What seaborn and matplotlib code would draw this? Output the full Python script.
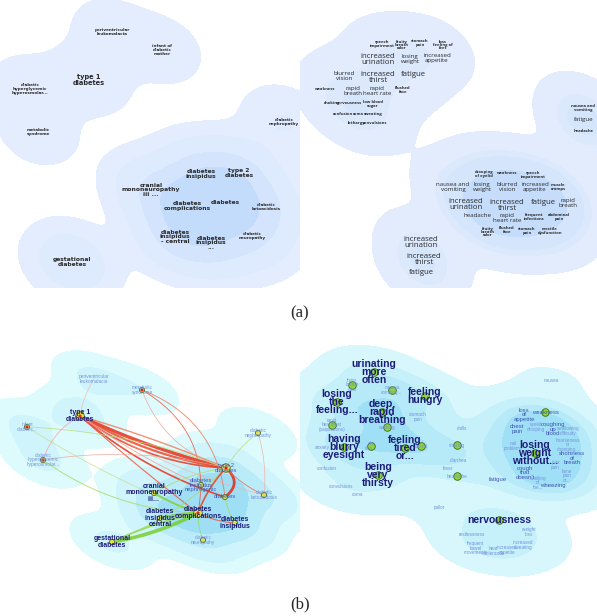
import numpy as np
import pandas as pd
import matplotlib.pyplot as plt
from matplotlib.colors import LinearSegmentedColormap
import seaborn as sns

sns.set_style("white")
plt.rcParams["font.family"] = ["DejaVu Sans"]

# ---------------- (a) left: disease map ----------------
a1_labels = ["periventricular\nleukomalacia", "infant of\ndiabetic\nmother", "type 1\ndiabetes",
             "diabetic\nhyperglycemic\nhyperosmolar...", "metabolic\nsyndrome", "diabetic\nnephropathy",
             "diabetes\ninsipidus", "type 2\ndiabetes", "cranial\nmononeuropathy\niii ...",
             "diabetes\ncomplications", "diabetes", "diabetic\nketoacidosis", "diabetes\ninsipidus\n- central",
             "diabetes\ninsipidus\n...", "diabetic\nneuropathy", "gestational\ndiabetes"]
a1_x = [112, 162, 89, 30, 38, 284, 201, 239, 151, 187, 225, 266, 175, 211, 252, 72]
a1_y = [32, 50, 80, 89, 132, 122, 174, 173, 190, 206, 203, 207, 237, 243, 236, 262]
a1_rank = [1, 1, 3, 1, 1, 1, 2, 2, 2, 2, 2, 1, 2, 2, 1, 2]
a1_weight = [1, 1, 1.2, 1, 1, 1.4, 4, 4, 3, 6, 6, 3, 4, 4, 3, 3]

# ---------------- (a) right: symptom map ----------------
a2_labels = ["speech\nimpairment", "fruity\nbreath\nodor", "stomach\npain", "loss\nfeeling of\nfeet",
             "increased\nurination", "losing\nweight", "increased\nappetite", "blurred\nvision",
             "increased\nthirst", "fatigue", "weakness", "rapid\nbreath", "rapid\nheart rate",
             "flushed\nface", "choking", "nervousness", "low blood\nsugar", "confusion", "coma",
             "sweating", "lethargy", "convulsions",
             "nausea and\nvomiting", "fatigue", "headache",
             "drooping\nof eyelid", "weakness", "speech\nimpairment", "nausea and\nvomiting",
             "losing\nweight", "blurred\nvision", "increased\nappetite", "muscle\ncramps",
             "increased\nurination", "increased\nthirst", "fatigue", "rapid\nbreath", "headache",
             "rapid\nheart rate", "frequent\ninfections", "abdominal\npain", "fruity\nbreath\nodor",
             "flushed\nface", "stomach\npain", "erectile\ndysfunction",
             "increased\nurination", "increased\nthirst", "fatigue"]
a2_x = [382, 402, 420, 443, 378, 410, 437, 344, 378, 413, 325, 353, 377, 403, 332, 349, 373, 343, 358,
        373, 356, 375,
        583, 584, 584,
        484, 507, 533, 453, 482, 507, 535, 558, 466, 507, 543, 568, 478, 507, 534, 559, 488, 507, 527, 550,
        421, 424, 421]
a2_y = [44, 45, 43, 45, 59, 59, 58, 76, 77, 74, 89, 91, 91, 90, 103, 103, 104, 114, 114, 114, 123, 123,
        108, 120, 131,
        174, 173, 175, 187, 187, 187, 187, 187, 205, 206, 203, 203, 216, 218, 217, 217, 232, 230, 231, 231,
        243, 260, 273]
a2_rank = [1, 1, 1, 1, 3, 2, 2, 2, 3, 3, 1, 2, 2, 1, 1, 1, 1, 1, 1, 1, 1, 1,
           1, 2, 1,
           1, 1, 1, 2, 2, 2, 2, 1, 3, 3, 3, 2, 2, 2, 1, 1, 1, 1, 1, 1,
           3, 3, 3]
a2_weight = [1, 1, 1, 1, 1.5, 1.5, 1.5, 1.5, 1.5, 1.5, 1, 1, 1, 1, 1, 1, 1, 1, 1, 1, 1, 1,
             3.5, 3.5, 3.5,
             3, 3, 3, 3, 4, 4, 4, 3.5, 4, 6, 4, 3.5, 4, 4, 3, 3.5, 3, 3, 3, 3,
             3.5, 3.5, 3.5]

# ---------------- (b) left: disease network ----------------
b1_labels = ["periventricular\nleukomalacia", "metabolic\nsyndrome", "type 1\ndiabetes", "infant\ndiabetic...",
             "diabetic\nhyperglycemic\nhyperosmolar...", "diabetic\nnephropathy", "type 2\ndiabetes",
             "diabetes\ninsipidus\nnephrogenic", "cranial\nmononeuropathy\niii...", "diabetes",
             "diabetic\nketoacidosis", "diabetes\ncomplications", "diabetes\ninsipidus\ncentral",
             "diabetes\ninsipidus", "diabetic\nneuropathy", "gestational\ndiabetes"]
b1_x = [94, 142, 80, 27, 43, 258, 226, 201, 154, 225, 264, 198, 160, 235, 203, 112]
b1_y = [379, 390, 416, 427, 460, 433, 468, 485, 493, 497, 495, 513, 518, 523, 540, 542]
b1_rank = [1, 1, 3, 1, 1, 1, 2, 2, 3, 2, 1, 3, 3, 3, 1, 3]
b1_weight = [1.5, 1, 2, 1.5, 1.5, 1.2, 4, 4, 3, 5, 3, 6, 4, 4, 3, 1.5]
b1_hub = [0, 1, 2, 1, 1, 1, 2, 1, 1, 1, 1, 2, 1, 1, 1, 1]
b1_red = [0, 1, 1, 1, 1, 0, 1, 0, 0, 0, 0, 1, 0, 0, 0, 0]

# edges: source, target, colour, width, bend
b1_edges = [(2, 6, "#e8301c", 2.4, 0.05), (2, 6, "#ec4a2a", 1.6, 0.10), (2, 6, "#f08060", 1.0, -0.03),
            (2, 6, "#e53b20", 1.2, 0.15),
            (2, 9, "#e8301c", 1.2, 0.10), (2, 11, "#f2553a", 0.8, 0.02), (2, 7, "#f4a090", 0.6, 0.05),
            (2, 10, "#f6b0a0", 0.5, 0.08), (1, 11, "#ee5030", 0.6, -0.35), (1, 9, "#f07050", 0.6, -0.3),
            (1, 6, "#f39a88", 0.5, 0.25), (0, 2, "#f6b4a8", 0.5, 0.1), (3, 6, "#b6e07a", 0.6, -0.08),
            (3, 11, "#c4e48c", 0.6, 0.05), (4, 2, "#f4a6a0", 0.6, -0.2), (4, 11, "#a8dc6a", 0.7, 0.15),
            (4, 6, "#f0a090", 0.5, -0.1), (15, 11, "#78cf30", 2.6, 0.08), (15, 11, "#90d84a", 1.4, -0.06),
            (8, 11, "#7fd23a", 1.4, 0.05), (12, 11, "#7fd23a", 1.8, -0.05), (15, 6, "#a6dc60", 0.6, 0.1),
            (6, 9, "#e02a18", 2.0, -0.6), (11, 6, "#e8401f", 1.2, -0.1), (5, 6, "#b8e27a", 0.6, 0.1),
            (5, 10, "#f2a8a0", 0.5, -0.1), (6, 10, "#e86a50", 0.6, 0.1), (9, 13, "#a0da58", 0.6, 0.1),
            (14, 11, "#9ad860", 0.6, -0.1), (11, 13, "#e85a40", 0.8, 0.1), (8, 6, "#a8dc68", 0.6, -0.1)]

# ---------------- (b) right: symptom network ----------------
b2_labels = ["urinating\nmore\noften", "fruity\nbreath\nodor", "nausea\nvomiting...", "feeling\nhungry",
             "losing\nthe\nfeeling...", "deep,\nrapid\nbreathing", "stomach\npain",
             "rapid\nheartbeat\n(palpitations)", "swelling", "chills", "anxiety", "having\nblurry\neyesight",
             "dry\nskin...", "feeling\ntired\nor...", "dazed", "shaking", "confusion", "being\nvery\nthirsty",
             "diarrhea", "fever", "headache", "convulsions", "coma", "pallor",
             "nausea", "weakness", "loss\nof\nappetite", "eyelid\ndrooping", "coughing\nup\nblood",
             "swallowing\ndifficulty", "chest\npain", "nail\nproblems", "losing\nweight\nwithout...",
             "hoarseness\nor\nchanging...", "shortness\nof\nbreath", "joint\npain", "bone\npain\nor...",
             "cough\nthat\ndoesn't", "swelling\nof\nthe...", "wheezing", "fatigue",
             "nervousness", "restlessness", "weight\nloss", "frequent\nbowel\nmovements",
             "heat\nintolerance", "increased\nappetite", "increased\nsweating"]
b2_x = [374, 352, 392, 425, 337, 382, 418, 332, 387, 462, 322, 344, 371, 405, 421, 457, 327, 378,
        458, 448, 457, 341, 357, 439,
        551, 545, 524, 536, 553, 568, 517, 513, 535, 568, 572, 555, 567, 525, 538, 553, 498,
        499, 472, 529, 476, 493, 507, 523]
b2_y = [372, 385, 390, 396, 402, 412, 417, 425, 427, 428, 447, 447, 446, 448, 446, 445, 469, 475,
        461, 469, 476, 487, 495, 507,
        381, 412, 415, 427, 429, 431, 429, 446, 453, 445, 458, 465, 476, 473, 483, 485, 480,
        520, 535, 532, 548, 551, 550, 545]
b2_rank = [3, 1, 1, 3, 3, 3, 1, 1, 1, 1, 1, 3, 1, 3, 1, 1, 1, 3,
           1, 1, 1, 1, 1, 1,
           1, 2, 2, 1, 2, 1, 2, 1, 3, 1, 2, 1, 1, 2, 1, 2, 2,
           3, 1, 1, 1, 1, 1, 1]
b2_weight = [3, 1, 2, 3, 3, 4, 1, 2, 2, 1, 1, 3, 2, 3, 2, 2, 1, 3,
             1, 1, 1, 1, 1, 1,
             1, 2, 2, 2, 2, 2, 2, 2, 4, 2, 2, 2, 2, 2, 2, 2, 1,
             3, 1, 1, 1, 1, 1, 1]
b2_hub = [1, 1, 1, 1, 1, 1, 0, 1, 1, 0, 0, 1, 1, 1, 1, 1, 0, 1,
          0, 0, 1, 0, 0, 0,
          0, 1, 0, 0, 0, 0, 0, 0, 1, 0, 0, 0, 0, 0, 0, 0, 0,
          1, 0, 0, 0, 0, 0, 0]

W, H = 597, 616
A_BLUES = LinearSegmentedColormap.from_list("a_blues", ["#e6eefd", "#bcd8fb"])
B_CYANS = LinearSegmentedColormap.from_list("b_cyans", ["#e0fbfd", "#8fd9f4"])


def map_axes(fig, x0, y0, w, h):
    ax = fig.add_axes([x0 / W, 1 - (y0 + h) / H, w / W, h / H])
    ax.set_xlim(x0, x0 + w)
    ax.set_ylim(y0 + h, y0)
    return ax


def blob(ax, x, y, w, cmap, levels, bw):
    sns.kdeplot(x=np.asarray(x, float), y=np.asarray(y, float), weights=np.asarray(w, float),
                fill=True, levels=levels, cmap=cmap, bw_adjust=bw, gridsize=200, cut=6, ax=ax, zorder=0)
    ax.set_xlabel("")
    ax.set_ylabel("")
    ax.axis("off")


def bezier(p0, p2, bend, n=50):
    p0, p2 = np.asarray(p0, float), np.asarray(p2, float)
    d = p2 - p0
    c = (p0 + p2) / 2 + bend * np.array([-d[1], d[0]])
    t = np.linspace(0, 1, n)[:, None]
    return (1 - t) ** 2 * p0 + 2 * (1 - t) * t * c + t ** 2 * p2


fig = plt.figure(figsize=(W / 100, H / 100), dpi=100)

# (a) left
ax = map_axes(fig, 0, 0, 300, 288)
blob(ax, a1_x, a1_y, a1_weight, A_BLUES, [0.035, 0.22, 0.4, 0.62, 1.0], 0.6)
a_font = {1: 3.0, 2: 4.3, 3: 4.8}
for lab, x, y, r in zip(a1_labels, a1_x, a1_y, a1_rank):
    ax.text(x, y, lab, ha="center", va="center", fontsize=a_font[r], color="#2a2a2a",
            fontweight="bold", linespacing=0.85, zorder=5)

# (a) right
ax = map_axes(fig, 300, 0, 297, 288)
blob(ax, a2_x, a2_y, a2_weight, A_BLUES, [0.035, 0.3, 0.48, 0.68, 1.0], 0.6)
a2_font = {1: 3.0, 2: 4.4, 3: 5.6}
for lab, x, y, r in zip(a2_labels, a2_x, a2_y, a2_rank):
    ax.text(x, y, lab, ha="center", va="center", fontsize=a2_font[r], color="#2a2a2a",
            family="Open Sans", fontweight="bold" if r == 1 else "normal", linespacing=0.8, zorder=5)

# (b) left
ax = map_axes(fig, 0, 335, 300, 265)
blob(ax, b1_x, b1_y, b1_weight, B_CYANS, [0.035, 0.2, 0.42, 0.66, 1.0], 0.58)
for s, t, col, lw, bend in b1_edges:
    pts = bezier((b1_x[s], b1_y[s]), (b1_x[t], b1_y[t]), bend)
    ax.plot(pts[:, 0], pts[:, 1], color=col, lw=lw, alpha=0.85, zorder=2, solid_capstyle="round")
nodes = pd.DataFrame({"x": b1_x, "y": b1_y, "hub": b1_hub, "red": b1_red})
sns.scatterplot(data=nodes[nodes.hub > 0], x="x", y="y", size="hub", sizes={1: 14, 2: 38},
                color="#dfe34a", edgecolor="#556b2f", linewidth=0.6, legend=False, ax=ax, zorder=3)
sns.scatterplot(data=nodes[nodes.red > 0], x="x", y="y", s=5, color="#e8201c", edgecolor="none",
                legend=False, ax=ax, zorder=4)
b_color = {1: "#7393dc", 2: "#3f55b5", 3: "#1c1c78"}
b1_font = {1: 3.4, 2: 4.2, 3: 5.0}
for lab, x, y, r in zip(b1_labels, b1_x, b1_y, b1_rank):
    ax.text(x, y, lab, ha="center", va="center", fontsize=b1_font[r], color=b_color[r],
            family="Liberation Sans", fontweight="bold" if r == 3 else "normal", linespacing=0.85, zorder=5)
ax.set_xlabel("")
ax.set_ylabel("")

# (b) right
ax = map_axes(fig, 300, 335, 297, 265)
blob(ax, b2_x, b2_y, b2_weight, B_CYANS, [0.03, 0.22, 0.48, 0.72, 1.0], 0.66)
nodes = pd.DataFrame({"x": b2_x, "y": b2_y, "hub": b2_hub})
sns.scatterplot(data=nodes[nodes.hub > 0], x="x", y="y", s=30, color="#8fd43a", edgecolor="#3b6d12",
                linewidth=0.6, legend=False, ax=ax, zorder=3)
b2_font = {1: 3.3, 2: 4.3, 3: 7.5}
for lab, x, y, r in zip(b2_labels, b2_x, b2_y, b2_rank):
    ax.text(x, y, lab, ha="center", va="center", fontsize=b2_font[r], color=b_color[r],
            family="Liberation Sans", fontweight="bold" if r == 3 else "normal", linespacing=0.8, zorder=5)
ax.set_xlabel("")
ax.set_ylabel("")

fig.text(300 / W, 1 - 313 / H, "(a)", ha="center", va="center", fontsize=12, family="Liberation Serif")
fig.text(300 / W, 1 - 604 / H, "(b)", ha="center", va="center", fontsize=12, family="Liberation Serif")

fig.savefig("out.png", dpi=100, facecolor="white")
